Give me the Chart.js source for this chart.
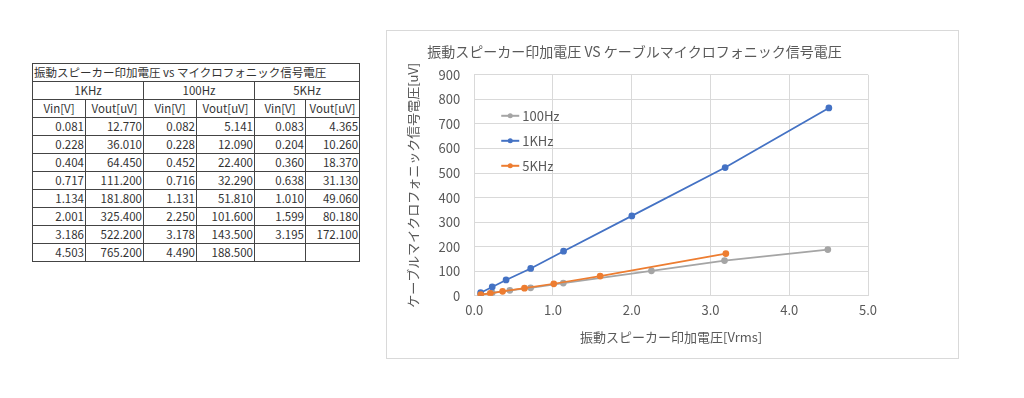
<!DOCTYPE html>
<html>
<head>
<meta charset="utf-8">
<script src="https://cdn.jsdelivr.net/npm/chart.js@4/dist/chart.umd.min.js"></script>
<style>
  body { margin: 0; background: #fff; width: 1024px; height: 398px; position: relative; overflow: hidden; }
  #tbl { position: absolute; left: 32px; top: 63px; border-collapse: collapse; table-layout: fixed; width: 327px; font-family: "Noto Sans CJK JP", sans-serif; font-size: 11.5px; color: #333; }
  #tbl td { border: 1px solid #444; height: 17px; padding: 0 1px; line-height: 17px; white-space: nowrap; overflow: hidden; }
  #tbl td.n { text-align: right; }
  #tbl td.c { text-align: center; }
  #box { position: absolute; left: 386px; top: 30px; width: 571px; height: 327px; border: 1px solid #d9d9d9; }
</style>
</head>
<body>
<table id="tbl"></table>
<div id="box"><canvas id="myChart" width="571" height="327"></canvas></div>
<script>
const seriesNames = ["100Hz", "1KHz", "5KHz"];
const colors = ["#A5A5A5", "#4472C4", "#ED7D31"];

const vin1k = [0.081, 0.228, 0.404, 0.717, 1.134, 2.001, 3.186, 4.503];
const vout1k = [12.77, 36.01, 64.45, 111.2, 181.8, 325.4, 522.2, 765.2];
const vin100 = [0.082, 0.228, 0.452, 0.716, 1.131, 2.25, 3.178, 4.49];
const vout100 = [5.141, 12.09, 22.4, 32.29, 51.81, 101.6, 143.5, 188.5];
const vin5k = [0.083, 0.204, 0.36, 0.638, 1.01, 1.599, 3.195];
const vout5k = [4.365, 10.26, 18.37, 31.13, 49.06, 80.18, 172.1];

const tableTitle = "振動スピーカー印加電圧 vs マイクロフォニック信号電圧";
const tableGroups = ["1KHz", "100Hz", "5KHz"];
const colWidths = [53, 58, 53, 58, 51, 54];

// table
var tbl = document.getElementById("tbl");
var html = '<colgroup>';
colWidths.forEach(function (w) { html += '<col style="width:' + w + 'px">'; });
html += '</colgroup><tr><td colspan="6">' + tableTitle + '</td></tr><tr>';
tableGroups.forEach(function (g) { html += '<td class="c" colspan="2">' + g + '</td>'; });
html += '</tr><tr>';
for (var i = 0; i < 3; i++) {
  html += '<td class="c">Vin[V]</td><td class="c">Vout[uV]</td>';
}
html += '</tr>';
function cell(v) { return '<td class="n">' + (v === undefined ? '' : v.toFixed(3)) + '</td>'; }
for (var r = 0; r < 8; r++) {
  html += '<tr>' + cell(vin1k[r]) + cell(vout1k[r]) + cell(vin100[r]) + cell(vout100[r]) + cell(vin5k[r]) + cell(vout5k[r]) + '</tr>';
}
tbl.innerHTML = html;

function pts(xs, ys) {
  return xs.map(function (x, i) { return { x: x, y: ys[i] }; });
}

const legendPlugin = {
  id: "insideLegend",
  afterDraw: function (chart) {
    const ctx = chart.ctx;
    const a = chart.chartArea;
    ctx.save();
    ctx.font = '13px "Noto Sans CJK JP", sans-serif';
    ctx.textBaseline = "middle";
    chart.data.datasets.forEach(function (ds, i) {
      const x = a.left + 27;
      const y = a.top + 41 + i * 25;
      ctx.strokeStyle = ds.borderColor;
      ctx.lineWidth = 2;
      ctx.beginPath();
      ctx.moveTo(x, y);
      ctx.lineTo(x + 18, y);
      ctx.stroke();
      ctx.fillStyle = ds.borderColor;
      ctx.beginPath();
      ctx.arc(x + 9, y, 2.5, 0, Math.PI * 2);
      ctx.fill();
      ctx.fillStyle = "#595959";
      ctx.fillText(ds.label, x + 21, y);
    });
    ctx.restore();
  }
};

const data = {
  datasets: [
    { label: seriesNames[0], data: pts(vin100, vout100), borderColor: colors[0], backgroundColor: colors[0], order: 3 },
    { label: seriesNames[1], data: pts(vin1k, vout1k), borderColor: colors[1], backgroundColor: colors[1], order: 2 },
    { label: seriesNames[2], data: pts(vin5k, vout5k), borderColor: colors[2], backgroundColor: colors[2], order: 1 },
  ],
};

const font = { family: '"Noto Sans CJK JP", sans-serif', size: 13 };

const config = {
  type: "scatter",
  data: data,
  options: {
    responsive: false,
    animation: false,
    showLine: true,
    borderWidth: 1.75,
    pointRadius: 2.5,
    pointHoverRadius: 3,
    layout: { padding: { left: 14, right: 90, top: 5, bottom: 9 } },
    scales: {
      x: {
        type: "linear",
        min: 0,
        max: 5,
        ticks: { stepSize: 1, color: "#595959", font: font, callback: function (v) { return v.toFixed(1); }, padding: 6 },
        grid: { color: "#d9d9d9", drawTicks: false },
        border: { color: "#d9d9d9" },
        title: { display: true, text: "振動スピーカー印加電圧[Vrms]", color: "#595959", font: font, padding: { top: 6 } },
      },
      y: {
        min: 0,
        max: 900,
        ticks: { stepSize: 100, color: "#595959", font: font, padding: 14 },
        grid: { color: "#d9d9d9", drawTicks: false },
        border: { display: false },
        title: { display: true, text: "ケーブルマイクロフォニック信号電圧[uV]", color: "#595959", font: font, padding: { bottom: 4 } },
      },
    },
    plugins: {
      legend: { display: false },
      tooltip: { enabled: false },
      title: { display: true, text: "振動スピーカー印加電圧 VS ケーブルマイクロフォニック信号電圧", color: "#595959", font: { family: '"Noto Sans CJK JP", sans-serif', size: 14, weight: "normal" }, padding: { top: 7, bottom: 15 } },
    },
  },
  plugins: [legendPlugin],
};

const myChart = new Chart(document.getElementById("myChart"), config);
</script>
</body>
</html>
